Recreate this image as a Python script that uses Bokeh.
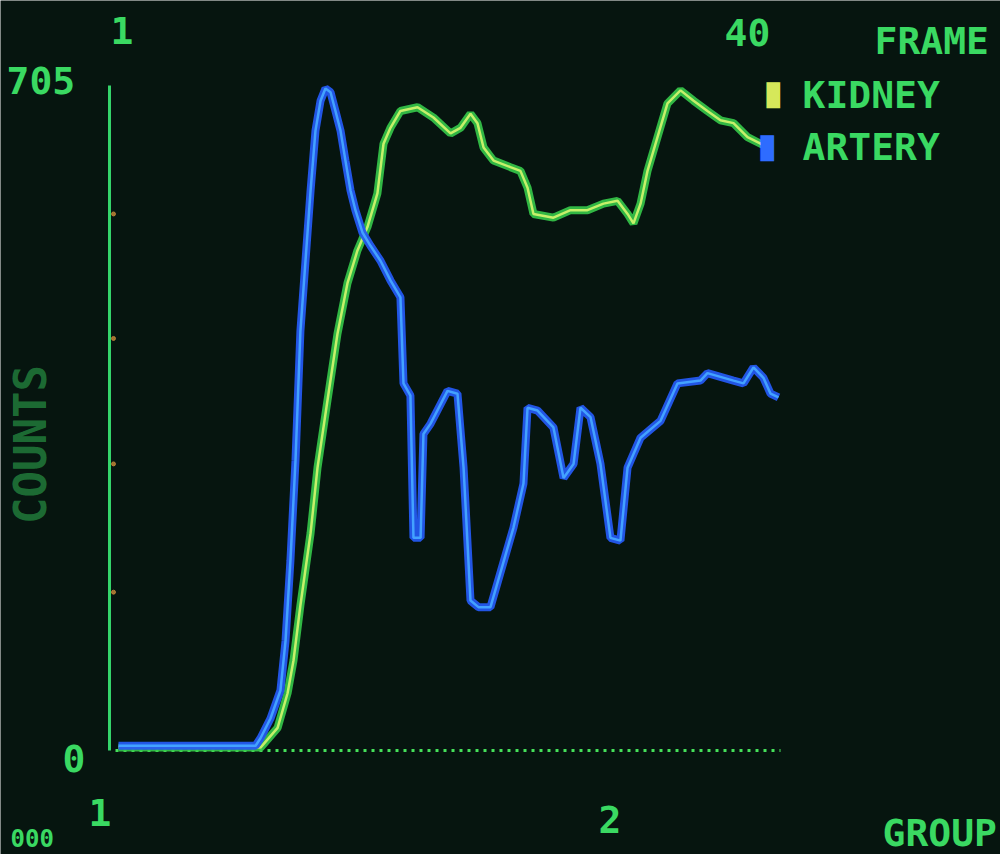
import numpy as np
from bokeh.plotting import figure
from bokeh.models import Range1d, Label
from bokeh.embed import file_html
from bokeh.resources import INLINE

# ---------------- data (frame number, counts) ----------------
artery_frame = [1.00, 9.10, 9.39, 9.98, 10.57, 10.87, 11.16, 11.46, 11.75, 12.05,
                12.35, 12.64, 12.94, 13.23, 13.53, 13.82, 14.12, 14.41, 14.71, 15.00,
                15.42, 15.89, 16.48, 17.07, 17.66, 17.84, 18.25, 18.43, 18.85, 19.02,
                19.44, 20.44, 21.03, 21.39, 21.80, 22.27, 22.98, 24.34, 24.93, 25.17,
                25.76, 26.70, 27.30, 27.89, 28.30, 28.89, 29.48, 30.07, 30.66, 31.08,
                31.85, 33.03, 34.03, 35.39, 35.80, 37.34, 37.93, 38.52, 39.11, 39.53,
                40.00]
artery_counts = [3, 3, 11, 32, 62, 115, 201, 308, 446, 521,
                 596, 660, 692, 705, 701, 681, 660, 628, 596, 575,
                 551, 537, 521, 500, 482, 390, 377, 225, 225, 336,
                 347, 382, 379, 300, 158, 151, 151, 236, 283, 364,
                 361, 343, 289, 304, 364, 354, 304, 225, 222, 300,
                 332, 350, 390, 393, 401, 393, 390, 407, 396, 379,
                 375]

kidney_frame = [1.00, 9.10, 9.39, 10.40, 10.99, 11.34, 11.75, 12.35, 12.76, 13.35,
                13.94, 14.53, 15.12, 15.71, 16.30, 16.66, 17.07, 17.66, 18.67, 19.61,
                20.62, 21.21, 21.80, 22.21, 22.57, 23.16, 24.16, 24.75, 25.17, 25.52,
                26.70, 27.71, 28.71, 29.66, 30.49, 31.08, 31.43, 31.85, 32.26, 32.85,
                33.44, 34.21, 34.98, 35.80, 36.57, 37.34, 38.17, 38.94, 39.53]
kidney_counts = [1, 1, 1, 22, 59, 94, 153, 230, 300, 372,
                 443, 497, 532, 557, 593, 646, 663, 681, 685, 674,
                 657, 663, 678, 668, 642, 628, 621, 617, 599, 571,
                 567, 575, 575, 582, 585, 571, 561, 582, 617, 653,
                 689, 703, 692, 681, 671, 668, 653, 646, 642]

y_tick_marks = [167, 304, 438, 571]

frame_first, frame_last = 1, 40
count_min, count_max = 0, 705
series_names = ["KIDNEY", "ARTERY"]
group_labels = ["1", "2"]

# ---------------- styling / layout ----------------
W, H = 1000, 854
PX_FIRST, PX_LAST = 118, 778          # screen x of frame 1 and frame 40
PY_ZERO, PY_MAX = 748, 88             # screen y (from top) of 0 and 705 counts
px_per_frame = (PX_LAST - PX_FIRST) / (frame_last - frame_first)
px_per_count = (PY_ZERO - PY_MAX) / (count_max - count_min)

x0 = frame_first - PX_FIRST / px_per_frame
x1 = frame_first + (W - PX_FIRST) / px_per_frame
y1 = count_min + PY_ZERO / px_per_count
y0 = count_min - (H - PY_ZERO) / px_per_count

BG = "#06150f"
TXT = "#3ad962"
FONT = "DejaVu Sans Mono"
FS = "38px"

p = figure(width=W, height=H, output_backend="svg", toolbar_location=None,
           x_range=Range1d(x0, x1), y_range=Range1d(y0, y1),
           min_border=0, min_border_left=0, min_border_right=0,
           min_border_top=0, min_border_bottom=0)
p.axis.visible = False
p.grid.visible = False
p.outline_line_color = None
p.background_fill_color = BG
p.border_fill_color = BG

# axes drawn as CRT lines
ax_x = frame_first - 9 / px_per_frame
p.line([ax_x, ax_x], [count_min - 2 / px_per_count, count_max + 3 / px_per_count],
       line_color="#34d46a", line_width=3)
p.line([frame_first - 3 / px_per_frame, frame_last + 2 / px_per_frame],
       [count_min - 2 / px_per_count] * 2,
       line_color="#45e05a", line_width=3, line_dash="3 5")
p.scatter([ax_x + 4 / px_per_frame] * len(y_tick_marks), y_tick_marks,
          size=4, color="#c88a3a", alpha=0.8)

# kidney (green / yellow phosphor)
p.line(kidney_frame, kidney_counts, line_color="#36c94a", line_width=8, alpha=0.9)
p.line(kidney_frame, kidney_counts, line_color="#c6f06a", line_width=2.5)
# artery (blue phosphor)
p.line(artery_frame, artery_counts, line_color="#2458f0", line_width=8, alpha=0.95)
p.line(artery_frame, artery_counts, line_color="#43a2ff", line_width=2.5)


def lab(txt, x, ytop, **kw):
    opts = dict(x=x, y=H - ytop, x_units="screen", y_units="screen", text=txt,
                text_color=TXT, text_font=FONT, text_font_size=FS,
                text_font_style="bold", text_baseline="top")
    opts.update(kw)
    p.add_layout(Label(**opts))


# legend (key squares + names)
lab("\u2588", 766, 82, text_color="#d6e85a", text_font_size="22px")
lab("\u2588", 760, 135, text_color="#2e6cff", text_font_size="22px")
lab(series_names[0], 802, 72)
lab(series_names[1], 802, 124)

lab(str(frame_first), 110, 16)
lab(str(frame_last), 724, 18)
lab("FRAME", 874, 18)
lab(str(count_max), 6, 66)
lab(str(count_min), 62, 744)
lab(group_labels[0], 88, 798)
lab(group_labels[1], 598, 805)
lab("GROUP", 882, 810)
lab("000", 10, 828, text_font_size="24px")
lab("COUNTS", 30, H - 410, text_baseline="middle", text_align="center",
    angle=np.pi / 2, text_alpha=0.45, text_font_size="44px")

open("out.html", "w").write(file_html(p, INLINE))
